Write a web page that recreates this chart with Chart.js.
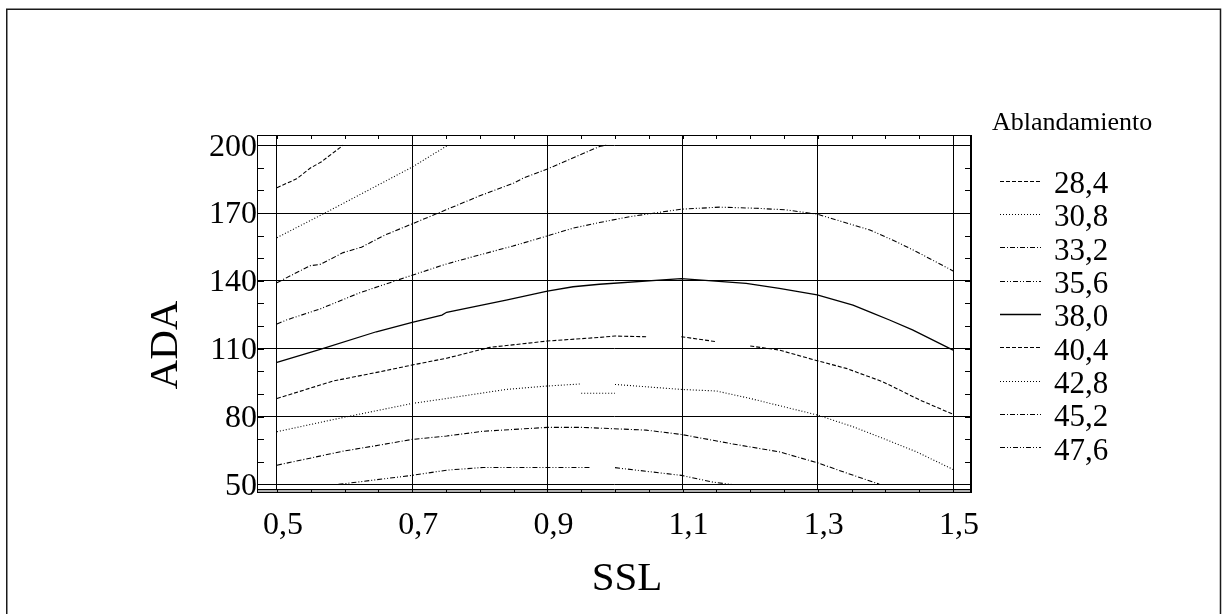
<!DOCTYPE html>
<html>
<head>
<meta charset="utf-8">
<script src="https://cdn.jsdelivr.net/npm/chart.js@4.4.1/dist/chart.umd.min.js"></script>
<style>
  html, body { margin: 0; padding: 0; background: #fff; }
  canvas { display: block; }
</style>
</head>
<body>
<canvas id="contour" width="1222" height="614"></canvas>
<script>
// contour levels of Ablandamiento over SSL (x) and ADA (y)
const levels = ['28,4', '30,8', '33,2', '35,6', '38,0', '40,4', '42,8', '45,2', '47,6']

// each contour as [SSL, ADA] pairs, null = break in the line
const c284 = [[0.5, 181.2], [0.529, 185.1], [0.549, 189.8], [0.566, 192.7], [0.598, 200]]
const c308 = [[0.5, 159.1], [0.571, 170], [0.7, 190.3], [0.753, 200]]
const c332 = [[0.5, 139.2], [0.549, 146.7], [0.564, 147.3], [0.598, 152.5], [0.625, 154.9], [0.66, 160.3],
  [0.7, 165.2], [0.75, 171.4], [0.8, 177.6], [0.85, 183.2], [0.864, 185.4], [0.9, 189.5], [0.977, 199.4], [0.987, 200]]
const c356 = [[0.5, 120.9], [0.514, 122.7], [0.564, 127.6], [0.623, 134.8], [0.7, 142.5], [0.751, 147.5],
  [0.8, 151.5], [0.849, 155.4], [0.9, 159.9], [0.938, 163.3], [0.977, 165.8], [1.022, 168.4], [1.098, 171.7],
  [1.155, 172.6], [1.209, 172.1], [1.253, 171.4], [1.299, 169.5], [1.377, 162.5], [1.416, 157.3], [1.446, 152.9], [1.5, 144.4]]
const c380 = [[0.5, 104], [0.564, 109.7], [0.647, 117.5], [0.7, 121.7], [0.744, 124.9], [0.751, 126.1],
  [0.839, 131.5], [0.9, 135.5], [0.938, 137.4], [0.977, 138.5], [1.098, 141], [1.194, 138.9], [1.243, 136.7],
  [1.299, 133.8], [1.352, 129.3], [1.381, 125.7], [1.406, 122.7], [1.44, 118.3], [1.5, 109.4]]
const c404 = [[0.5, 88], [0.583, 95.7], [0.652, 99.8], [0.7, 102.8], [0.751, 105.8], [0.815, 110.6], [0.9, 113.4],
  [0.977, 115], [1.0, 115.6], [1.046, 115.3], null, [1.098, 115.3], [1.15, 113.1], null, [1.2, 111.2],
  [1.243, 109.4], [1.299, 104.7], [1.342, 101.3], [1.396, 95.4], [1.451, 87.3], [1.5, 81]]
const c428 = [[0.5, 73.3], [0.598, 79.6], [0.7, 85.8], [0.751, 88], [0.839, 92], [0.9, 93.5], [0.948, 94.4], null,
  [0.95, 90.3], [1.0, 90.3], null, [1.0, 94.2], [1.098, 92], [1.15, 91.3], [1.2, 88], [1.299, 80.7],
  [1.352, 75.5], [1.396, 70.4], [1.446, 64.4], [1.5, 56.6]]
const c452 = [[0.5, 58.5], [0.598, 64.7], [0.652, 67.4], [0.7, 69.9], [0.751, 71.4], [0.805, 73.5], [0.9, 75.2],
  [0.953, 75.2], [1.046, 74], [1.098, 72.1], [1.17, 68.1], [1.243, 64.4], [1.299, 59.6], [1.342, 55.1], [1.391, 50.1]]
const c476 = [[0.591, 50], [0.7, 54], [0.751, 56.3], [0.805, 57.5], [0.9, 57.5], [0.965, 57.5], null,
  [1.0, 57.4], [1.098, 54], [1.145, 51], [1.172, 50]]

const contours = [c284, c308, c332, c356, c380, c404, c428, c452, c476]

const xTicks = [0.5, 0.7, 0.9, 1.1, 1.3, 1.5]
const yTicks = [50, 80, 110, 140, 170, 200]

const SERIF = "'Liberation Serif', 'Times New Roman', serif"

// line styles cycle: dashed, dotted, dash-dot, dash-dot-dot, solid
const dashes = [[4, 2], [1, 2], [5, 2, 1, 2], [5, 2, 1, 2, 1, 2], [], [4, 2], [1, 2], [5, 2, 1, 2], [5, 2, 1, 2, 1, 2]]

const datasets = contours.map((pts, i) => ({
    label: levels[i],
    data: pts.map(p => p === null ? {x: null, y: null} : {x: p[0], y: p[1]}),
    borderColor: '#000',
    borderWidth: i === 4 ? 1.3 : 1.1,
    borderDash: dashes[i],
    pointRadius: 0,
    tension: 0,
    spanGaps: false
}))

const fmt = v => v.toFixed(1).replace('.', ',')

const plotDecor = {
    id: 'plotDecor',
    afterDraw(chart) {
        const {ctx, chartArea: a, scales: {x, y}} = chart
        ctx.save()

        // bottom edge drawn as a thin grey band
        ctx.fillStyle = '#b0b0b0'
        ctx.fillRect(a.left, a.bottom - 3, a.right - a.left, 3)
        ctx.strokeStyle = '#000'
        ctx.lineWidth = 1
        ctx.strokeRect(a.left + 0.5, a.top + 0.5, a.right - a.left - 1, a.bottom - a.top - 1)
        ctx.beginPath()
        ctx.moveTo(a.left, a.bottom - 3.5)
        ctx.lineTo(a.right, a.bottom - 3.5)
        ctx.stroke()
        ctx.lineWidth = 2
        ctx.beginPath()
        ctx.moveTo(a.right - 1, a.top)
        ctx.lineTo(a.right - 1, a.bottom)
        ctx.stroke()

        // minor ticks pointing into the plot
        ctx.lineWidth = 1
        ctx.beginPath()
        for (let k = 0; k <= 20; k++) {
            const px = Math.round(x.getPixelForValue(0.5 + k * 0.05)) + 0.5
            ctx.moveTo(px, a.top)
            ctx.lineTo(px, a.top + 4)
            ctx.moveTo(px, a.bottom - 4)
            ctx.lineTo(px, a.bottom)
        }
        for (let k = 0; k <= 15; k++) {
            const py = Math.round(y.getPixelForValue(50 + k * 10)) + 0.5
            ctx.moveTo(a.left, py)
            ctx.lineTo(a.left + 7, py)
            ctx.moveTo(a.right - 7, py)
            ctx.lineTo(a.right, py)
        }
        ctx.stroke()

        // axis titles
        ctx.fillStyle = '#000'
        ctx.font = '41px ' + SERIF
        ctx.textAlign = 'center'
        ctx.textBaseline = 'alphabetic'
        ctx.fillText('SSL', 627, 590)
        ctx.save()
        ctx.translate(177, 345)
        ctx.rotate(-Math.PI / 2)
        ctx.fillText('ADA', 0, 0)
        ctx.restore()

        // legend
        ctx.textAlign = 'left'
        ctx.font = '26px ' + SERIF
        ctx.fillText('Ablandamiento', 992, 130)
        ctx.font = '31px ' + SERIF
        chart.data.datasets.forEach((ds, i) => {
            const cy = 182.5 + i * 33.35
            ctx.strokeStyle = '#000'
            ctx.lineWidth = ds.borderWidth
            ctx.setLineDash(ds.borderDash)
            ctx.beginPath()
            ctx.moveTo(1000, Math.round(cy - 2) + 0.5)
            ctx.lineTo(1041, Math.round(cy - 2) + 0.5)
            ctx.stroke()
            ctx.setLineDash([])
            ctx.fillText(ds.label, 1054, cy + 10.5)
        })

        // outer frame
        ctx.strokeStyle = '#1a1a1a'
        ctx.lineWidth = 1.5
        ctx.beginPath()
        ctx.moveTo(6.75, 614)
        ctx.lineTo(6.75, 9.25)
        ctx.lineTo(1220.5, 9.25)
        ctx.lineTo(1220.5, 614)
        ctx.stroke()
        ctx.restore()
    }
}

new Chart(document.getElementById('contour'), {
    type: 'line',
    data: {datasets: datasets},
    options: {
        responsive: false,
        animation: false,
        devicePixelRatio: 1,
        layout: {padding: {left: 0, top: 135, right: 250, bottom: 0}},
        scales: {
            x: {
                type: 'linear',
                min: 0.4705,
                max: 1.528,
                afterBuildTicks: s => { s.ticks = xTicks.map(v => ({value: v})) },
                afterFit: s => { s.height = 121 },
                ticks: {
                    callback: v => fmt(v),
                    font: {family: SERIF, size: 32},
                    color: '#000',
                    padding: 13,
                    labelOffset: 6,
                    maxRotation: 0,
                    autoSkip: false
                },
                grid: {color: '#000', lineWidth: 1, drawTicks: false},
                border: {display: false}
            },
            y: {
                type: 'linear',
                min: 46.2,
                max: 204.5,
                afterBuildTicks: s => { s.ticks = yTicks.map(v => ({value: v})) },
                afterFit: s => { s.width = 257 },
                ticks: {
                    callback: v => String(v),
                    font: {family: SERIF, size: 32},
                    color: '#000',
                    padding: 0,
                    labelOffset: 2,
                    autoSkip: false
                },
                grid: {color: '#000', lineWidth: 1, drawTicks: false},
                border: {display: false}
            }
        },
        plugins: {
            legend: {display: false},
            tooltip: {enabled: false}
        }
    },
    plugins: [plotDecor]
})
</script>
</body>
</html>
